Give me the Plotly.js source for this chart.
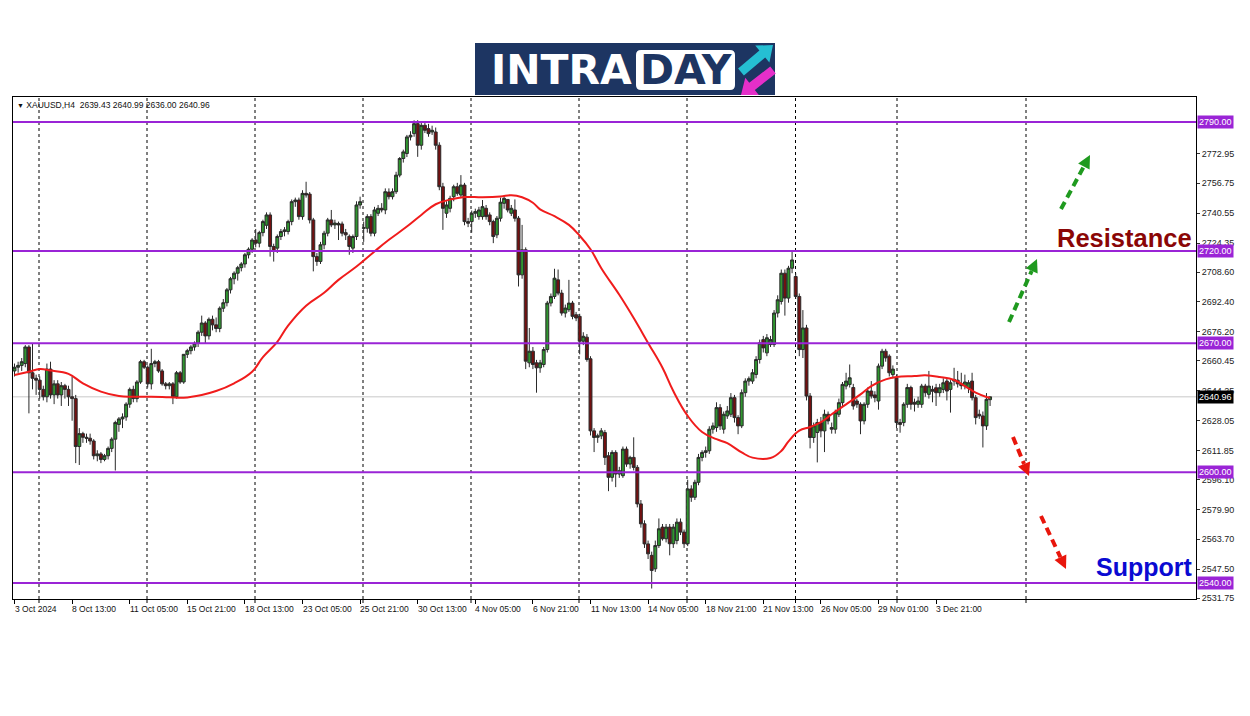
<!DOCTYPE html>
<html><head><meta charset="utf-8">
<script src="https://cdn.plot.ly/plotly-3.0.1.min.js"></script>
<style>html,body{margin:0;padding:0;background:#fff;}#chart{width:1250px;height:716px;}</style>
</head><body><div id="chart"></div>
<script>
// ---------------- DATA ----------------
const barOpen = [
2655,2657,2658,2659,2668,2654,2651,2650,2645,2641,
2656,2642,2648,2642,2647,2645,2641,2640,2614,2621,
2619,2618.5,2617,2609,2610,2607,2609,2613,2618,2626,
2629,2630,2637,2645,2640,2649,2660,2657,2648,2659,
2660,2655,2648,2647,2648,2641,2654,2649,2664,2666,
2668,2670,2676,2681,2674,2683,2680,2678,2689,2692,
2699,2705,2708,2711,2713,2718,2721,2726,2724.3,2730,
2734,2739.6,2722.5,2721.6,2727.9,2730.6,2730.6,2736,2746.8,2747.7,
2738.7,2751.3,2750.9,2736.9,2717,2714.4,2723.4,2729.7,2736.9,2734.2,
2735,2734.7,2730,2728,2721.6,2727.9,2745,2732.4,2732.4,2738.7,
2729.7,2740.5,2743.2,2742.3,2752,2749.5,2752.2,2761.2,2770.2,2772.9,
2781.9,2783.7,2789.1,2777.4,2788.2,2786.4,2784.6,2784.6,2777.4,2754.9,
2740.5,2743.2,2749.5,2754.9,2750.4,2755.8,2736,2736,2740.5,2738.7,
2738.7,2743.2,2739.6,2736,2728.8,2737.8,2745.9,2748,2740.5,2742.3,
2737.8,2707.1,2720.7,2659.4,2665.7,2659.4,2656.7,2658.5,2666.6,2691.8,
2695.4,2704.4,2697.2,2686.4,2688.2,2691.8,2685.5,2684.6,2671.1,2673.3,
2661.6,2622.5,2619,2619.8,2621.6,2609,2597.3,2610.8,2599.1,2598.2,
2612.6,2604.5,2608.1,2602.7,2582.9,2572.1,2561.2,2555,2547.7,2560.3,
2570.3,2564,2570.3,2561.3,2563,2573,2567.6,2561.3,2591,2586.5,
2594.6,2608.1,2610.8,2611.7,2623.4,2624.3,2635.1,2623.4,2630.6,2631.5,
2640.5,2629.7,2625.2,2643.2,2649.5,2649.5,2653.1,2661.2,2672,2664.8,
2669.3,2669.3,2686.4,2692.7,2708,2694.5,2710.7,2706.2,2695.4,2666.6,
2678.3,2641.4,2618.9,2621.6,2627,2622.5,2631.5,2624.3,2623.4,2631.5,
2637.8,2646.8,2647.7,2646,2638.7,2636.9,2627.9,2636.9,2644.1,2642,
2638.7,2657.6,2665.7,2663,2653,2651.3,2627,2627,2636.9,2646,
2638,2636.9,2636.9,2646.8,2642.3,2645,2645.9,2643.2,2645,2649.5,
2645,2649.5,2650,2648,2647,2646,2649.5,2640.5,2631.5,2630.6,
2625.2,2639.43];
const barHigh = [
2659,2660,2662,2669,2669,2670,2653,2652,2647,2659,
2660,2650,2650,2649,2648,2647,2652,2642,2624,2622,
2621,2621,2618,2612,2611,2610,2614,2619,2628,2630,
2632,2638,2646,2647,2650,2661,2661,2658,2667,2661,
2661,2656,2649,2649,2649,2655,2655,2664,2667,2669,
2671,2677,2685,2682,2684,2685,2684,2690,2694,2700,
2706,2709,2712,2714,2719,2722,2727,2732,2731,2737,
2741,2741,2724,2729,2732,2733,2737,2748,2749,2749,
2753,2757.6,2752,2738,2719,2725,2731,2738,2742.3,2737,
2736,2736,2732,2729,2729,2747,2749.5,2736,2740,2740,
2744,2745,2746,2754,2754,2754,2763,2771,2775,2783,
2785,2790.9,2791,2790,2790.5,2789,2788,2787,2779,2757,
2747,2750,2756,2757,2761.2,2757,2738,2742,2743,2744,
2747.7,2745,2741,2737,2739,2749,2750,2748,2745,2748,
2739,2734.2,2722,2678.3,2668,2661,2661,2668,2693,2697,
2710.4,2710,2699,2691,2704.4,2693,2687,2686,2676,2675,
2663,2624,2621,2624,2623,2611,2612,2612,2603,2614,
2614,2609,2619,2604,2585,2574,2563,2557,2563,2575,
2572,2572,2572,2572,2575,2575,2569,2596,2593,2596,
2610,2612,2614,2625,2627,2638,2637,2633,2636,2643,
2642,2631,2645,2651,2652,2656,2663,2672,2674,2675,
2674,2688,2696,2710,2710,2712,2719.7,2708,2697,2688,
2680,2643,2627,2629,2630,2634,2633,2627,2634,2640,
2649,2654,2658.5,2648,2640,2638,2638,2646,2649.5,2644,
2659,2667,2667,2664,2658,2653,2629,2638,2648,2647,
2640,2641,2648,2648,2655,2647,2648,2648,2651,2651,
2650,2656.7,2655,2654,2653,2650,2654,2642,2634,2633,
2643,2640.99];
const barLow = [
2652,2654,2655,2657,2632,2645,2642,2640,2639,2638,
2640,2637,2640,2636,2640,2636,2628,2605,2604,2616,
2616,2615,2607,2606,2605,2606,2607,2611,2601,2622,
2624,2628,2635,2638,2638,2648,2656,2646,2645,2657,
2654,2647,2645,2645,2637,2640,2648,2648,2662,2664,
2666,2668,2674,2670,2672,2677,2676,2676,2687,2690,
2697,2702,2704,2709,2711,2716,2719,2722,2722,2728,
2732,2717,2714.3,2719,2726,2728,2729,2734,2744,2737,
2737,2749,2735,2709,2712,2713,2721,2728,2733,2732,
2726,2728,2726,2718,2719,2726,2743,2725,2730,2728,
2728,2739,2741,2740,2748,2748,2751,2760,2768,2771,
2780,2782,2771.1,2775,2784,2782,2783,2775,2753,2731.5,
2738,2741,2747,2750,2749,2734,2733,2730,2738,2737,
2737,2737,2734,2724.3,2727,2736,2743,2741,2739,2736,
2700.8,2705,2656,2657,2656,2643.2,2654,2657,2665,2690,
2694,2696,2685,2684,2687,2683,2682,2664,2669,2660,
2620,2611,2616,2618,2604,2589.8,2595,2592,2597,2597,
2603,2602,2601,2581,2570,2559,2553,2537,2546,2559,
2563,2562,2555,2559,2561,2566,2559,2560,2584,2585,
2593,2606,2608,2610,2621,2622,2623,2621,2629,2630,
2627,2620.7,2624,2641,2647,2648,2651,2659,2665,2663,
2668,2668,2684,2691,2685,2692,2708,2694,2663,2662,
2639,2613,2616,2605.4,2619,2611,2626,2621,2621,2630,
2636,2645,2646,2634,2635,2620.7,2626,2635,2640,2638,
2634,2656,2660,2652,2651,2624,2621.5,2625,2635,2634,
2633,2635,2635,2641,2640,2638,2636,2641,2643,2639,
2632.4,2647,2646,2645,2645,2643,2639,2626,2629,2613.5,
2623,2636.00];
const barClose = [
2657,2658,2660,2668,2654,2651,2650,2645,2641,2656,
2642,2648,2642,2647,2645,2641,2640,2614,2621,2619,
2618.5,2617,2609,2610,2607,2609,2613,2618,2627,2629,
2630,2637,2645,2640,2649,2660,2657,2648,2659,2660,
2655,2648,2647,2648,2641,2654,2649,2664,2666,2668,
2670,2676,2681,2674,2683,2680,2678,2689,2692,2699,
2705,2708,2711,2713,2718,2721,2726,2724.3,2730,2736,
2739.6,2722.5,2719.8,2727.9,2730.6,2731.5,2736,2746.8,2747.7,2738.7,
2751.3,2750.4,2736.9,2717,2714.4,2723.4,2729.7,2736.9,2734.2,2735.2,
2734.2,2729.7,2728.8,2722.5,2727.9,2745,2746.8,2732.6,2738.7,2729.7,
2742.3,2743.2,2742.3,2752.2,2749.5,2752.2,2761.2,2770.2,2773.8,2781.9,
2782.8,2789.1,2777.4,2788.2,2785.5,2783.7,2785.5,2777.4,2754.9,2743.2,
2745,2748.6,2754.9,2751.3,2755.8,2736,2735.1,2740.5,2741.4,2742.3,
2744.1,2738.7,2736,2727.9,2737.8,2746.5,2748.6,2742.3,2743.2,2737.8,
2707.1,2720.7,2660.3,2665.7,2658.5,2656.7,2659.4,2666.6,2691.8,2695.4,
2705.3,2697.2,2686.4,2689.1,2691.8,2684.6,2683.7,2671.1,2673.8,2661.2,
2622.5,2618.9,2619.8,2622.5,2608.1,2597.3,2610.8,2599.1,2600.9,2612.6,
2604.5,2608.1,2602.7,2582.9,2572.1,2561.2,2555.8,2546.8,2560.3,2569.4,
2564,2570.3,2561.3,2570.3,2573,2567.6,2561.3,2591,2586.5,2594.6,
2608.1,2610.8,2611.7,2623.4,2625.2,2635.1,2625.2,2631.5,2633.3,2640.5,
2629.7,2625.2,2643.2,2649.5,2650.8,2654,2661.2,2670.2,2667.5,2673,
2672,2686.4,2693.6,2708,2694.5,2710.7,2715.2,2695.4,2666.6,2678.3,
2641.4,2618.9,2625.2,2627,2622.5,2631.5,2627.9,2623.4,2632.4,2637.8,
2647.7,2649.5,2651.3,2636,2636.9,2627.9,2636.9,2644.1,2641.4,2640.5,
2657.6,2665.7,2662.1,2654,2656,2627,2626,2636.9,2646,2636.9,
2637,2638.7,2646.8,2643.2,2646.8,2644,2643.2,2645.9,2648.6,2644.1,
2648.6,2650.4,2648,2647,2649,2648.6,2640.5,2629.7,2630.6,2625.2,
2639.6,2640.96];

// moving average (read at sampled bars)
const maBar = [0,4,7,10,15,19,24,29,33,38,43,47,52,56,61,66,69,73,76,81,86,90,95,100,104,109,113,117,121,125,130,135,138,141,144,146,150,154,157,160,163,168,172,176,180,183,187,191,195,198,202,205,210,213,215,218,221,224,227,231,235,238,242,245,250,253,257,261,264,267,270,271];
const maValue = [2652.8,2654.6,2656,2655.2,2653.4,2648.3,2643.8,2641.4,2641,2641,2640.7,2640.5,2642,2644.1,2648.3,2654.6,2662.5,2670.8,2679.6,2690.4,2697.4,2704.4,2711.6,2719.8,2726.1,2733.3,2739.6,2745.4,2747.9,2749.3,2749.2,2749.6,2750.3,2749.2,2746.2,2742.6,2738.9,2734.2,2728.3,2721,2710.7,2696.3,2683.7,2670.2,2656.7,2644.1,2630.6,2621.9,2618,2615.8,2610.8,2608,2607.8,2611.6,2616.8,2622.6,2624.6,2627.2,2631.5,2636.9,2642.3,2646.8,2650.4,2651.7,2652.2,2652.6,2651.7,2650.1,2646.8,2643.2,2640.9,2640.5];

const levels = [2790, 2720, 2670, 2600, 2540];
const lastPrice = 2640.96;
const priceTicks = [2531.75,2547.50,2563.70,2579.90,2596.10,2611.85,2628.05,2644.25,2660.45,2676.20,2692.40,2708.60,2724.35,2740.55,2756.75,2772.95];
const timeLabels = ['3 Oct 2024','8 Oct 13:00','11 Oct 05:00','15 Oct 21:00','18 Oct 13:00','23 Oct 05:00','25 Oct 21:00','30 Oct 13:00','4 Nov 05:00','6 Nov 21:00','11 Nov 13:00','14 Nov 05:00','18 Nov 21:00','21 Nov 13:00','26 Nov 05:00','29 Nov 01:00','3 Dec 21:00'];
const timeLabelBars = [0,16,32,48,64,80,96,112,128,144,160,176,192,208,224,240,256];
const symbolText = 'XAUUSD,H4';
const ohlcText = '2639.43 2640.99 2636.00 2640.96';

// ---------------- LAYOUT HELPERS ----------------
const W = 1250, H = 716;
const PL = 13, PR = 1196, PT = 97, PB = 599;
const PX = px => (px - PL) / (PR - PL);
const PY = py => (PB - py) / (PB - PT);
const FONT = 'Liberation Sans, Arial, sans-serif';
const PURPLE = '#9a24d6';

function polyPath(pts){
  return 'M ' + pts.map(p => PX(p[0]).toFixed(5) + ' ' + PY(p[1]).toFixed(5)).join(' L ') + ' Z';
}
function blockArrow(tx, ty, hx, hy, shaftW, headW, headL){
  const dx = hx - tx, dy = hy - ty, len = Math.hypot(dx, dy);
  const ux = dx/len, uy = dy/len, nx = -uy, ny = ux;
  const bx = hx - ux*headL, by = hy - uy*headL;
  return polyPath([
    [tx + nx*shaftW/2, ty + ny*shaftW/2],
    [bx + nx*shaftW/2, by + ny*shaftW/2],
    [bx + nx*headW/2, by + ny*headW/2],
    [hx, hy],
    [bx - nx*headW/2, by - ny*headW/2],
    [bx - nx*shaftW/2, by - ny*shaftW/2],
    [tx - nx*shaftW/2, ty - ny*shaftW/2]
  ]);
}
function dashedArrow(tx, ty, hx, hy, color){
  const dx = hx - tx, dy = hy - ty, len = Math.hypot(dx, dy);
  const ux = dx/len, uy = dy/len, nx = -uy, ny = ux;
  const hl = 13, hw = 13;
  const bx = hx - ux*hl, by = hy - uy*hl;
  return [
    {type:'line', xref:'paper', yref:'paper', x0:PX(tx), y0:PY(ty), x1:PX(bx), y1:PY(by),
     line:{color:color, width:4, dash:'8px,5px'}, layer:'above'},
    {type:'path', xref:'paper', yref:'paper', path: polyPath([[hx,hy],[bx+nx*hw/2, by+ny*hw/2],[bx-nx*hw/2, by-ny*hw/2]]),
     fillcolor:color, line:{width:0}, layer:'above'}
  ];
}
function roundRect(x0, y0, x1, y1, r){
  const X = PX, Y = PY;
  return `M ${X(x0+r)} ${Y(y0)} L ${X(x1-r)} ${Y(y0)} Q ${X(x1)} ${Y(y0)} ${X(x1)} ${Y(y0+r)} L ${X(x1)} ${Y(y1-r)} Q ${X(x1)} ${Y(y1)} ${X(x1-r)} ${Y(y1)} L ${X(x0+r)} ${Y(y1)} Q ${X(x0)} ${Y(y1)} ${X(x0)} ${Y(y1-r)} L ${X(x0)} ${Y(y0+r)} Q ${X(x0)} ${Y(y0)} ${X(x0+r)} ${Y(y0)} Z`;
}

const barIndex = barOpen.map((_, i) => i);

const traces = [
  {
    type:'candlestick', x:barIndex, open:barOpen, high:barHigh, low:barLow, close:barClose,
    increasing:{line:{color:'#2a2a2a', width:1}, fillcolor:'#2f962f'},
    decreasing:{line:{color:'#2a2a2a', width:1}, fillcolor:'#741010'},
    whiskerwidth:0, hoverinfo:'skip', showlegend:false
  },
  {
    type:'scatter', mode:'lines', x:maBar, y:maValue,
    line:{color:'#f01c1c', width:2, shape:'spline', smoothing:1.2},
    hoverinfo:'skip', showlegend:false
  }
];

const shapes = [];
// weekly dashed grid (pixel positions of the separators)
[39,147,255,363,471,579,687,795.5,897,1026].forEach(px => {
  shapes.push({type:'line', xref:'paper', yref:'paper', x0:PX(px), x1:PX(px), y0:0, y1:1,
    line:{color:'#000', width:1, dash:'3px,3px'}, layer:'below'});
  shapes.push({type:'line', xref:'paper', yref:'paper', x0:PX(px), x1:PX(px), y0:0, y1:PY(603),
    line:{color:'#000', width:1}, layer:'above'});
});
// last price line
shapes.push({type:'line', xref:'paper', yref:'y', x0:0, x1:1, y0:lastPrice, y1:lastPrice,
  line:{color:'#c8c8c8', width:1}, layer:'below'});
// support / resistance levels
levels.forEach(v => shapes.push({type:'line', xref:'paper', yref:'y', x0:0, x1:1, y0:v, y1:v,
  line:{color:PURPLE, width:2}, layer:'above'}));
// projection arrows
shapes.push(...dashedArrow(1009, 322, 1037, 259, '#1f9a1f'));
shapes.push(...dashedArrow(1061, 209, 1090, 155, '#1f9a1f'));
shapes.push(...dashedArrow(1013, 437, 1029, 476, '#e8160c'));
shapes.push(...dashedArrow(1041, 516, 1066, 569, '#e8160c'));
// logo
shapes.push({type:'rect', xref:'paper', yref:'paper', x0:PX(475), x1:PX(775), y0:PY(95), y1:PY(43),
  fillcolor:'#1d3562', line:{width:0}, layer:'above'});
shapes.push({type:'path', xref:'paper', yref:'paper', path:roundRect(636, 50, 735, 90, 5),
  fillcolor:'#ffffff', line:{width:0}, layer:'above'});
shapes.push({type:'path', xref:'paper', yref:'paper', path:blockArrow(741, 72, 773, 45, 9, 22, 14),
  fillcolor:'#25bfd3', line:{width:0}, layer:'above'});
shapes.push({type:'path', xref:'paper', yref:'paper', path:blockArrow(773, 70, 741, 95, 9, 22, 14),
  fillcolor:'#e52fc9', line:{width:0}, layer:'above'});

const annotations = [];
// header
annotations.push({xref:'paper', yref:'paper', x:PX(15), y:1, xanchor:'left', yanchor:'top', yshift:-1,
  text:'<span style="font-size:7px">▼</span> ' + symbolText + '\u00a0\u00a0' + ohlcText,
  showarrow:false, font:{family:FONT, size:8.5, color:'#111'}});
// time labels
timeLabels.forEach((t, k) => annotations.push({xref:'x', yref:'paper', x:timeLabelBars[k], y:0,
  xanchor:'left', yanchor:'top', xshift:-2, yshift:-3, text:t, showarrow:false,
  font:{family:FONT, size:8.5, color:'#111'}}));
// level labels
levels.forEach(v => annotations.push({xref:'paper', yref:'y', x:1, y:v, xanchor:'left', yanchor:'middle',
  xshift:1, text:v.toFixed(2), showarrow:false, bgcolor:PURPLE, borderpad:1,
  font:{family:FONT, size:9, color:'#fff'}}));
annotations.push({xref:'paper', yref:'y', x:1, y:lastPrice, xanchor:'left', yanchor:'middle',
  xshift:1, text:lastPrice.toFixed(2), showarrow:false, bgcolor:'#000', borderpad:1,
  font:{family:FONT, size:9, color:'#fff'}});
// Resistance / Support labels
annotations.push({xref:'paper', yref:'paper', x:PX(1194), y:PY(238), xanchor:'right', yanchor:'middle',
  text:'<b>Resistance</b>', showarrow:false, font:{family:FONT, size:25.5, color:'#8a0606'}});
annotations.push({xref:'paper', yref:'paper', x:PX(1194), y:PY(567), xanchor:'right', yanchor:'middle',
  text:'<b>Support</b>', showarrow:false, font:{family:FONT, size:25, color:'#0a0ad2'}});
// logo text
annotations.push({xref:'paper', yref:'paper', x:PX(561), y:PY(70), xanchor:'center', yanchor:'middle',
  text:'<b>INTRA</b>', showarrow:false, font:{family:'DejaVu Sans, sans-serif', size:41, color:'#ffffff'}});
annotations.push({xref:'paper', yref:'paper', x:PX(686), y:PY(70), xanchor:'center', yanchor:'middle',
  text:'<b>DAY</b>', showarrow:false, font:{family:'DejaVu Sans, sans-serif', size:41, color:'#1d3562'}});

const layout = {
  width:W, height:H,
  margin:{l:PL, r:W-PR, t:PT, b:H-PB, pad:0},
  paper_bgcolor:'#ffffff', plot_bgcolor:'#ffffff',
  showlegend:false, dragmode:false,
  font:{family:FONT, size:8.5, color:'#111'},
  boxgap:0.1, boxgroupgap:0.1,
  xaxis:{range:[-0.42, 328.2], showgrid:false, zeroline:false, showline:true, mirror:true,
    linecolor:'#000', linewidth:1, ticks:'outside', ticklen:4, tickcolor:'#000',
    tickvals:timeLabelBars, showticklabels:false, rangeslider:{visible:false}, fixedrange:true},
  yaxis:{side:'right', range:[2531.32, 2803.56], showgrid:false, zeroline:false, showline:true, mirror:true,
    linecolor:'#000', linewidth:1, ticks:'outside', ticklen:3, tickcolor:'#333',
    tickvals:priceTicks, ticktext:priceTicks.map(v => v.toFixed(2)),
    tickfont:{family:FONT, size:9, color:'#222'}, fixedrange:true},
  shapes:shapes,
  annotations:annotations
};

Plotly.newPlot('chart', traces, layout, {displayModeBar:false, staticPlot:true});
</script>
</body></html>
